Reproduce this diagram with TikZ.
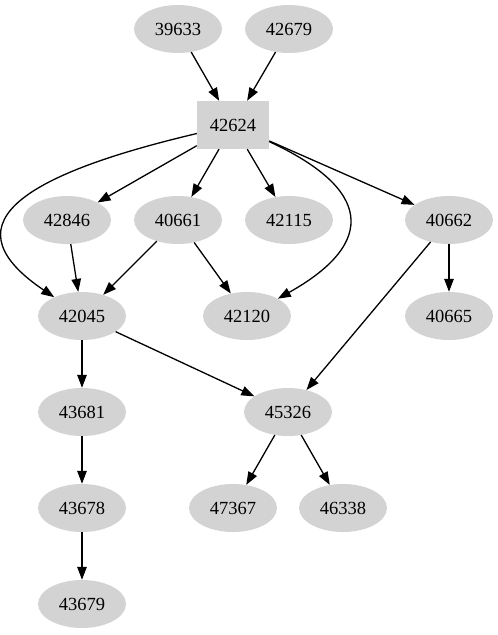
\documentclass[tikz,border=0pt]{standalone}
\usepackage{fontspec}
\setmainfont{Liberation Serif}
\usepackage{xcolor}
\usepackage{tikz}
\usetikzlibrary{arrows.meta}
\usetikzlibrary{shapes.geometric}
\definecolor{nodegray}{HTML}{D3D3D3}

\begin{document}
\begin{tikzpicture}[x=1pt,y=-1pt]
\tikzstyle{every node}=[font=\fontsize{18.5}{20}\selectfont, fill=nodegray, inner sep=0pt]
\tikzstyle{idnode}=[ellipse, minimum width=88pt, minimum height=48pt]
\tikzstyle{idbox}=[rectangle, minimum width=72pt, minimum height=48pt]
\tikzstyle{edge}=[->, >={Triangle[length=13pt,width=9.5pt]}, line width=1.3pt]
\useasboundingbox (0,0) rectangle (498,635);
\node [idnode] (n39633) at (178,29) {39633};
\node [idnode] (n42679) at (289,29) {42679};
\node [idbox] (n42624) at (233,125) {42624};
\node [idnode] (n42846) at (67,220) {42846};
\node [idnode] (n40661) at (178,220) {40661};
\node [idnode] (n42115) at (289,220) {42115};
\node [idnode] (n40662) at (449,220) {40662};
\node [idnode] (n42045) at (82,316) {42045};
\node [idnode] (n42120) at (247,316) {42120};
\node [idnode] (n40665) at (449,316) {40665};
\node [idnode] (n43681) at (82,412) {43681};
\node [idnode] (n45326) at (288,412) {45326};
\node [idnode] (n43678) at (82,508) {43678};
\node [idnode] (n47367) at (233,508) {47367};
\node [idnode] (n46338) at (343,508) {46338};
\node [idnode] (n43679) at (82,604) {43679};
\draw [edge] (n39633) -- (n42624);
\draw [edge] (n42679) -- (n42624);
\draw [edge] (n42624) -- (n42846);
\draw [edge] (n42624) -- (n40661);
\draw [edge] (n42624) -- (n42115);
\draw [edge] (n42624) -- (n40662);
\draw [edge] (n42624) .. controls (8,178) and (-48,228) .. (n42045);
\draw [edge] (n42624) .. controls (370,188) and (379,242) .. (n42120);
\draw [edge] (n42846) -- (n42045);
\draw [edge] (n40661) -- (n42045);
\draw [edge] (n40661) -- (n42120);
\draw [edge] (n40662) -- (n40665);
\draw [edge] (n40662) -- (n45326);
\draw [edge] (n42045) -- (n43681);
\draw [edge] (n42045) -- (n45326);
\draw [edge] (n45326) -- (n47367);
\draw [edge] (n45326) -- (n46338);
\draw [edge] (n43681) -- (n43678);
\draw [edge] (n43678) -- (n43679);
\end{tikzpicture}
\end{document}
